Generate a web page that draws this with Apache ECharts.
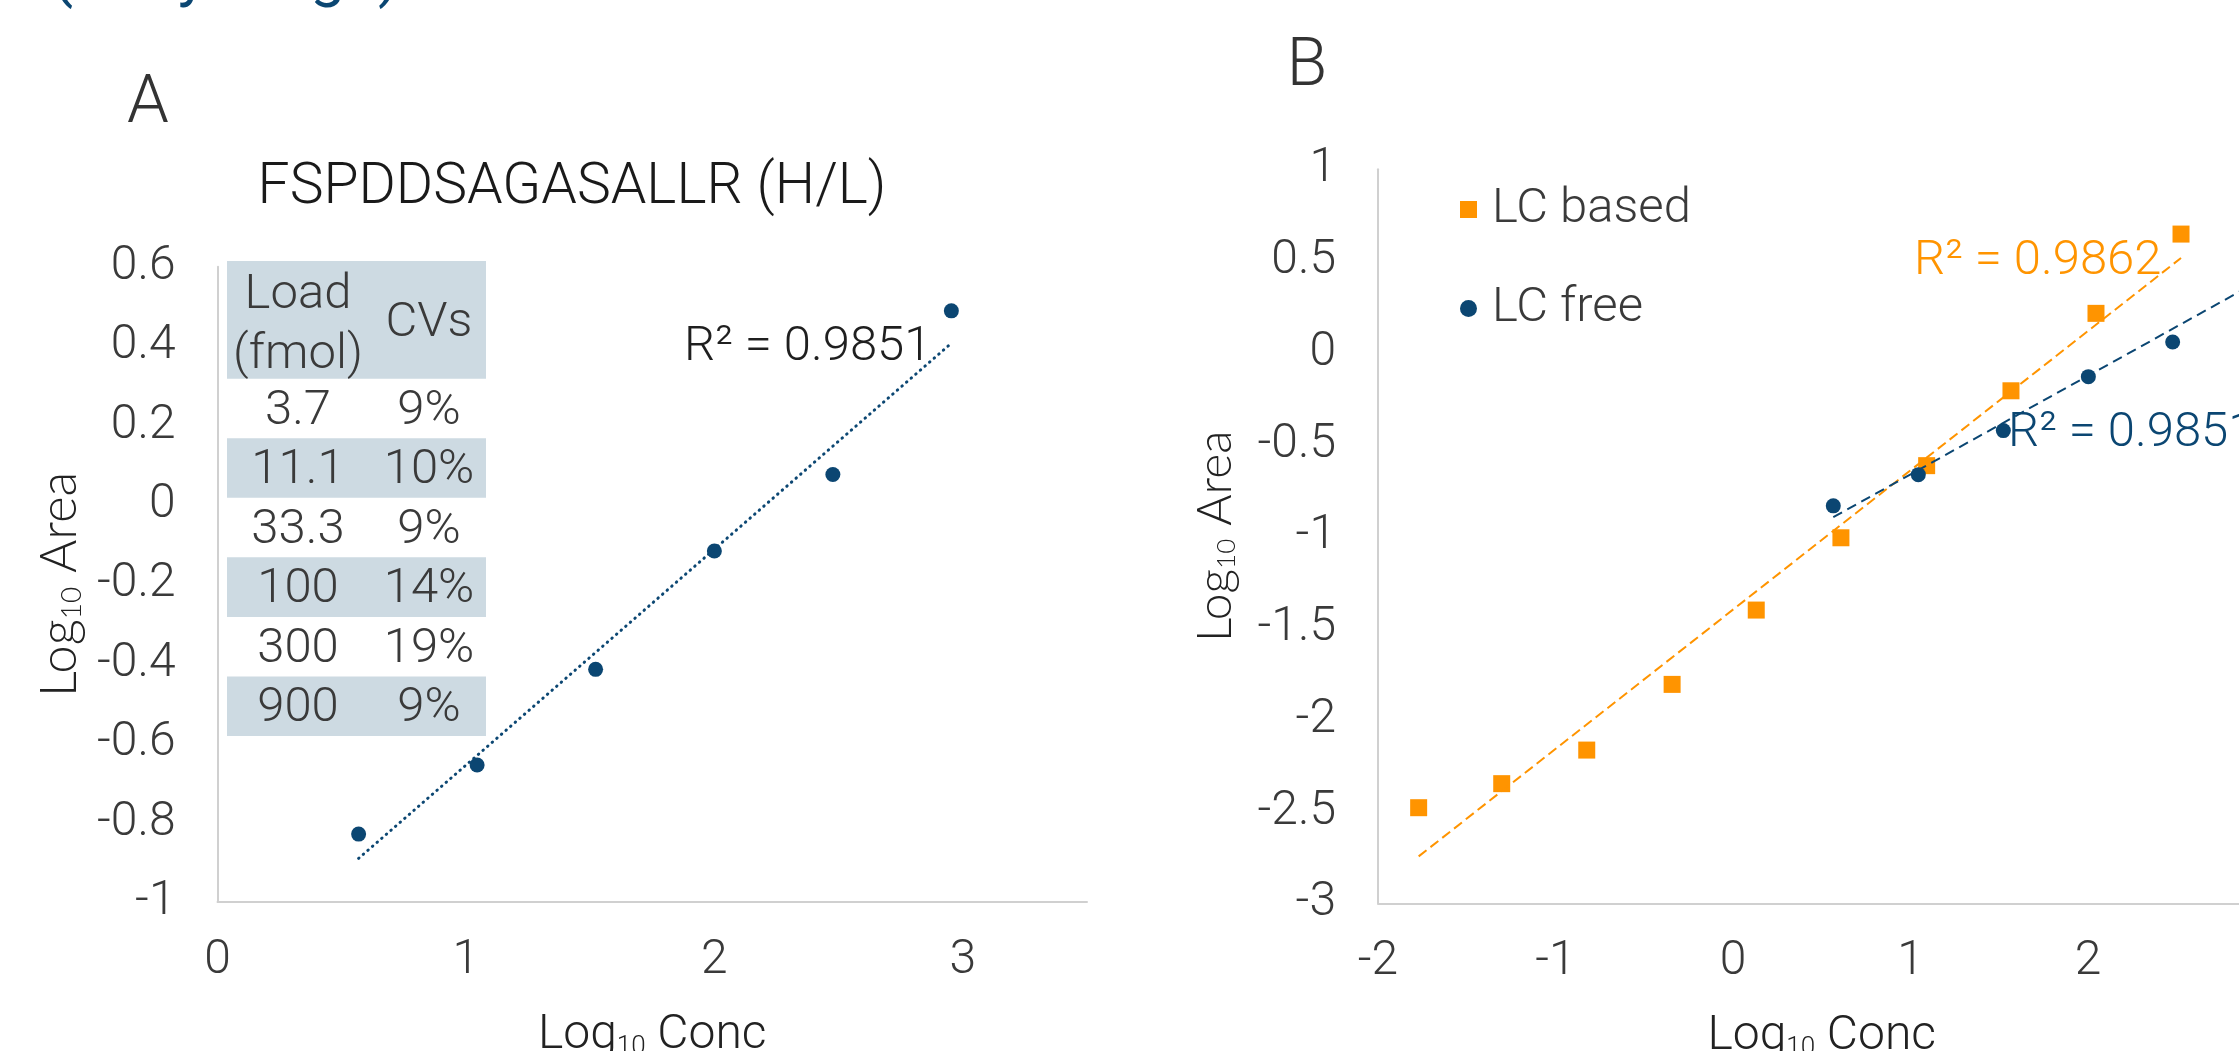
<!DOCTYPE html>
<html><head><meta charset="utf-8">
<script src="https://cdn.jsdelivr.net/npm/echarts@6/dist/echarts.min.js"></script>
<style>html,body{margin:0;padding:0;overflow:hidden;background:#fff}#c{width:2400px;height:1100px}</style>
</head><body><div id="c"></div>
<script>
// ---- data ----
const loadFmol = ['3.7', '11.1', '33.3', '100', '300', '900'];
const loadCV = ['9%', '10%', '9%', '14%', '19%', '9%'];
const concA = [0.568, 1.045, 1.522, 2.0, 2.477, 2.954];
const areaA = [-0.829, -0.655, -0.414, -0.116, 0.077, 0.489];
const concLCbased = [-1.771, -1.303, -0.824, -0.343, 0.131, 0.608, 1.091, 1.566, 2.045, 2.524];
const areaLCbased = [-2.479, -2.348, -2.165, -1.807, -1.402, -1.008, -0.615, -0.207, 0.215, 0.647];
const concLCfree = [0.565, 1.044, 1.523, 2.002, 2.477, 2.954];
const areaLCfree = [-0.834, -0.664, -0.424, -0.130, 0.059, 0.47];
const r2A = 'R² = 0.9851';
const r2Based = 'R² = 0.9862';
const r2Free = 'R² = 0.9851';
const titleA = 'FSPDDSAGASALLR (H/L)';
const seriesNames = ['LC based', 'LC free'];

// ---- helpers ----
const BLUE = '#0b4672', ORANGE = '#ff9400', TXT = '#3a3a3a', AX = '#d0d0d0';
const FONT = 'Roboto, "Noto Sans", sans-serif';
function zip(xs, ys) { return xs.map((x, i) => [x, ys[i]]); }
function trend(xs, ys) {
  const n = xs.length;
  const mx = xs.reduce((a, b) => a + b, 0) / n, my = ys.reduce((a, b) => a + b, 0) / n;
  let sxy = 0, sxx = 0;
  for (let i = 0; i < n; i++) { sxy += (xs[i] - mx) * (ys[i] - my); sxx += (xs[i] - mx) ** 2; }
  const b = sxy / sxx, a = my - b * mx;
  return [[xs[0], a + b * xs[0]], [xs[n - 1], a + b * xs[n - 1]]];
}
const fmt = v => String(+v.toFixed(1));
const nameRich = (fam, size, w) => ({
  a: { fontFamily: fam, fontSize: size, fontWeight: w, color: '#222', lineHeight: size },
  s: { fontFamily: fam, fontSize: Math.round(size * 0.55), fontWeight: w, color: '#222', lineHeight: Math.round(size * 0.55), verticalAlign: 'bottom' }
});
function xAx(gi, min, max, extra) {
  return Object.assign({
    gridIndex: gi, type: 'value', min, max, interval: 1,
    axisLine: { onZero: false, lineStyle: { color: AX, width: 2 } },
    axisTick: { show: false }, splitLine: { show: false },
    axisLabel: { margin: 35, fontSize: 48, fontFamily: FONT, fontWeight: 300, color: TXT, formatter: fmt },
    name: '{a|Log}{s|10}{a| Conc}', nameLocation: 'middle', nameGap: 110,
    nameTextStyle: { rich: nameRich(FONT, 48, 300) }
  }, extra || {});
}
function yAx(gi, min, max, iv, gap, size) {
  return {
    gridIndex: gi, type: 'value', min, max, interval: iv,
    axisLine: { show: true, onZero: false, lineStyle: { color: AX, width: 2 } },
    axisTick: { show: false }, splitLine: { show: false },
    axisLabel: { margin: 42, fontSize: 48, fontFamily: FONT, fontWeight: 300, color: TXT, formatter: fmt },
    name: '{a|Log}{s|10}{a| Area}', nameLocation: 'middle', nameRotate: 90, nameGap: gap,
    nameTextStyle: { rich: nameRich('Lato, "Noto Sans", sans-serif', size, 300) }
  };
}
function txt(x, y, text, size, color, align, extra) {
  return {
    type: 'text', x, y, silent: true, z: 100,
    style: Object.assign({ text, fontSize: size, fontFamily: FONT, fontWeight: 300, fill: color,
      align: align || 'center', verticalAlign: 'middle', textAlign: align || 'center', textVerticalAlign: 'middle' }, extra || {})
  };
}

// ---- table graphic ----
const graphics = [];
const TBG = '#cddae2';
const tblL = 227, tblR = 486, colLoad = 298, colCV = 429;
const headTop = 261, headBot = 378.7, rowH = 59.55;
graphics.push({ type: 'rect', shape: { x: tblL, y: headTop, width: tblR - tblL, height: headBot - headTop }, style: { fill: TBG }, silent: true, z: 50 });
graphics.push(txt(colLoad, 296, 'Load', 49, TXT));
graphics.push(txt(colLoad, 356, '(fmol)', 49, TXT));
graphics.push(txt(colCV, 324, 'CVs', 49, TXT));
loadFmol.forEach((v, i) => {
  const top = headBot + i * rowH;
  if (i % 2 === 1) graphics.push({ type: 'rect', shape: { x: tblL, y: top, width: tblR - tblL, height: rowH }, style: { fill: TBG }, silent: true, z: 50 });
  graphics.push(txt(colLoad, top + rowH / 2 + 3, v, 49, TXT));
  graphics.push(txt(colCV, top + rowH / 2 + 3, loadCV[i], 49, TXT));
});
// titles & labels
graphics.push(txt(52, 10, '(Daily range)', 62, BLUE, 'left', { verticalAlign: 'bottom', textVerticalAlign: 'bottom', fontWeight: 400 }));
graphics.push(txt(148, 105, 'A', 67, '#333'));
graphics.push(txt(1307, 68, 'B', 66, '#333'));
graphics.push(txt(572, 189, titleA, 57, '#1a1a1a'));
graphics.push(txt(684, 348, r2A, 49, '#1f1f1f', 'left'));
graphics.push(txt(1914, 262, r2Based, 49, ORANGE, 'left'));
graphics.push(txt(2008, 434, r2Free, 49, BLUE, 'left'));

const chart = echarts.init(document.getElementById('c'), null, { renderer: 'canvas' });
chart.setOption({
  animation: false,
  backgroundColor: '#fff',
  grid: [
    { left: 217.5, top: 266.8, width: 869.5, height: 635.2 },
    { left: 1378, top: 169.3, width: 887.5, height: 734 }
  ],
  xAxis: [
    xAx(0, 0, 3.5, { axisLabel: { margin: 35, fontSize: 48, fontFamily: FONT, fontWeight: 300, color: TXT, formatter: fmt, showMaxLabel: false } }),
    xAx(1, -2, 3)
  ],
  yAxis: [yAx(0, -1, 0.6, 0.2, 132, 51), yAx(1, -3, 1, 0.5, 138, 48)],
  legend: {
    orient: 'vertical', left: 1455, top: 180, itemWidth: 17, itemHeight: 17, itemGap: 50,
    data: [{ name: seriesNames[0], icon: 'rect' }, { name: seriesNames[1], icon: 'circle' }],
    textStyle: { fontSize: 49, fontFamily: FONT, fontWeight: 300, color: TXT, lineHeight: 49, padding: [0, 0, 0, 10] },
    selectedMode: false
  },
  graphic: graphics,
  series: [
    { name: 'A', type: 'scatter', xAxisIndex: 0, yAxisIndex: 0, symbol: 'circle', symbolSize: 15,
      itemStyle: { color: BLUE, opacity: 1 }, data: zip(concA, areaA), z: 3 },
    { name: 'A trend', type: 'line', xAxisIndex: 0, yAxisIndex: 0, showSymbol: false, symbol: 'none', silent: true,
      lineStyle: { color: BLUE, width: 3, type: [0.5, 5.6], cap: 'round' }, data: trend(concA, areaA), z: 4 },
    { name: seriesNames[0], type: 'scatter', xAxisIndex: 1, yAxisIndex: 1, symbol: 'rect', symbolSize: 17,
      itemStyle: { color: ORANGE, opacity: 1 }, data: zip(concLCbased, areaLCbased), z: 2 },
    { name: seriesNames[1], type: 'scatter', xAxisIndex: 1, yAxisIndex: 1, symbol: 'circle', symbolSize: 15,
      itemStyle: { color: BLUE, opacity: 1 }, data: zip(concLCfree, areaLCfree), z: 3 },
    { name: 'based trend', type: 'line', xAxisIndex: 1, yAxisIndex: 1, symbol: 'none', silent: true,
      lineStyle: { color: ORANGE, width: 2, type: [10, 5] }, data: trend(concLCbased, areaLCbased), z: 4 },
    { name: 'free trend', type: 'line', xAxisIndex: 1, yAxisIndex: 1, symbol: 'none', silent: true,
      lineStyle: { color: BLUE, width: 2, type: [10, 6] }, data: trend(concLCfree, areaLCfree), z: 5 }
  ]
});
</script></body></html>
